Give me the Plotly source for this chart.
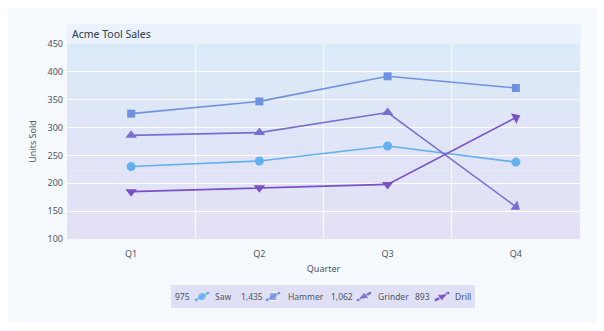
import plotly.graph_objects as go

# Quarterly unit sales per tool
quarters = ["Q1", "Q2", "Q3", "Q4"]
saw = [230, 240, 267, 238]
hammer = [325, 347, 392, 371]
grinder = [286, 291, 327, 158]
drill = [185, 192, 198, 318]

y_ticks = [100, 150, 200, 250, 300, 350, 400, 450]

W, H = 604, 331
FONT = "Noto Sans"
TXT = "#4b5563"
FS = 9
LFS = 8.5

# plot area in pixels
PL, PR, PT, PB = 67, 580, 44, 239


def px(x):
    return x / W


def py(y):
    return 1 - y / H


series = [
    ("Saw", saw, "#62b0f0", "circle", 9, [0, 0, 0, 0]),
    ("Hammer", hammer, "#6f92e0", "square", 8, [0, 0, 0, 0]),
    ("Grinder", grinder, "#7a6fd0", "triangle-up", 10, [0, 0, 0, 127]),
    ("Drill", drill, "#7c50c6", "triangle-down", 10, [0, 0, 0, -118]),
]

fig = go.Figure()

for name, vals, color, sym, size, ang in series:
    fig.add_trace(go.Scatter(
        x=quarters, y=vals, name=name, mode="lines+markers",
        line=dict(color=color, width=1.6),
        marker=dict(symbol=sym, size=size, color=color, angle=ang),
        showlegend=False, hoverinfo="x+y+name",
    ))

shapes = []
# outer panel
shapes.append(dict(type="rect", xref="paper", yref="paper",
                   x0=px(8), x1=px(597), y0=py(323), y1=py(8),
                   fillcolor="#f6fafe", line=dict(width=0), layer="below"))
# title strip
shapes.append(dict(type="path", xref="paper", yref="paper",
                   path=(f"M {px(PL)},{py(PT)} L {px(PL)},{py(28)} "
                         f"Q {px(PL)},{py(24)} {px(PL + 4)},{py(24)} "
                         f"L {px(581)},{py(24)} L {px(581)},{py(PT)} Z"),
                   fillcolor="#eaf3fb", line=dict(width=0), layer="below"))
# vertical gradient behind the plot area
top = (219, 234, 248)
bot = (227, 224, 245)
steps = 40
for i in range(steps):
    t = i / (steps - 1)
    c = tuple(round(top[k] + (bot[k] - top[k]) * t) for k in range(3))
    y0 = PT + (PB - PT) * i / steps
    y1 = PT + (PB - PT) * (i + 1) / steps
    shapes.append(dict(type="rect", xref="paper", yref="paper",
                       x0=px(PL), x1=px(PR), y0=py(y1), y1=py(y0 - 0.3),
                       fillcolor="rgb(%d,%d,%d)" % c, line=dict(width=0),
                       layer="below"))
# legend box
shapes.append(dict(type="rect", xref="paper", yref="paper",
                   x0=px(171), x1=px(475), y0=py(308), y1=py(285),
                   fillcolor="#dfe0f5", line=dict(width=0), layer="below"))

annotations = [
    dict(text="Acme Tool Sales", x=px(70), y=py(34.5), xref="paper", yref="paper",
         xanchor="left", yanchor="middle", showarrow=False,
         font=dict(family=FONT, size=10.5, color="#2d3a4a")),
]

# custom legend: total, icon, name
legend_pos = [(191, 195, 214), (264, 266, 287), (354, 357, 377), (431, 435, 454)]
LY = 296.5
for (name, vals, color, sym, size, ang), (tx, ix, nx) in zip(series, legend_pos):
    total = sum(vals)
    annotations.append(dict(text=f"{total:,}", x=px(tx), y=py(LY), xref="paper",
                            yref="paper", xanchor="right", yanchor="middle",
                            showarrow=False, borderpad=0,
                            font=dict(family=FONT, size=LFS, color=TXT)))
    annotations.append(dict(text=name, x=px(nx), y=py(LY), xref="paper",
                            yref="paper", xanchor="left", yanchor="middle",
                            showarrow=False, borderpad=0,
                            font=dict(family=FONT, size=LFS, color=TXT)))
    cx = ix + 7
    fig.add_trace(go.Scatter(
        x=[cx - 7, cx, cx + 7], y=[LY + 4, LY, LY - 4],
        mode="lines+markers", xaxis="x2", yaxis="y2",
        line=dict(color=color, width=2.5),
        marker=dict(symbol=sym, size=[0, size, 0], color=color),
        showlegend=False, hoverinfo="skip",
    ))

fig.update_layout(
    width=W, height=H,
    margin=dict(l=0, r=0, t=0, b=0, autoexpand=False),
    paper_bgcolor="white",
    plot_bgcolor="rgba(0,0,0,0)",
    font=dict(family=FONT, size=FS, color=TXT),
    shapes=shapes,
    annotations=annotations,
    showlegend=False,
    xaxis=dict(
        domain=[px(PL), px(PR)], type="category",
        range=[-0.5, 3.5], tickson="boundaries", ticks="",
        showgrid=True, gridcolor="white", gridwidth=1,
        showline=False, zeroline=False, automargin=False,
        ticklabelstandoff=8,
        tickfont=dict(family=FONT, size=FS, color=TXT),
        title=dict(text="Quarter", font=dict(family=FONT, size=FS, color=TXT),
                   standoff=6),
        anchor="y",
    ),
    yaxis=dict(
        domain=[py(PB), py(PT)], range=[100, 450],
        tickvals=y_ticks, ticks="", showgrid=True, gridcolor="white",
        gridwidth=1, zeroline=False, showline=False, automargin=False,
        ticklabelstandoff=3,
        tickfont=dict(family=FONT, size=FS, color=TXT),
        title=dict(text="Units Sold", font=dict(family=FONT, size=FS, color=TXT),
                   standoff=9),
        anchor="x",
    ),
    xaxis2=dict(domain=[0, 1], range=[0, W], visible=False, anchor="y2",
                fixedrange=True, automargin=False),
    yaxis2=dict(domain=[0, 1], range=[H, 0], visible=False, anchor="x2",
                fixedrange=True, automargin=False),
)

fig.write_html("out.html")
